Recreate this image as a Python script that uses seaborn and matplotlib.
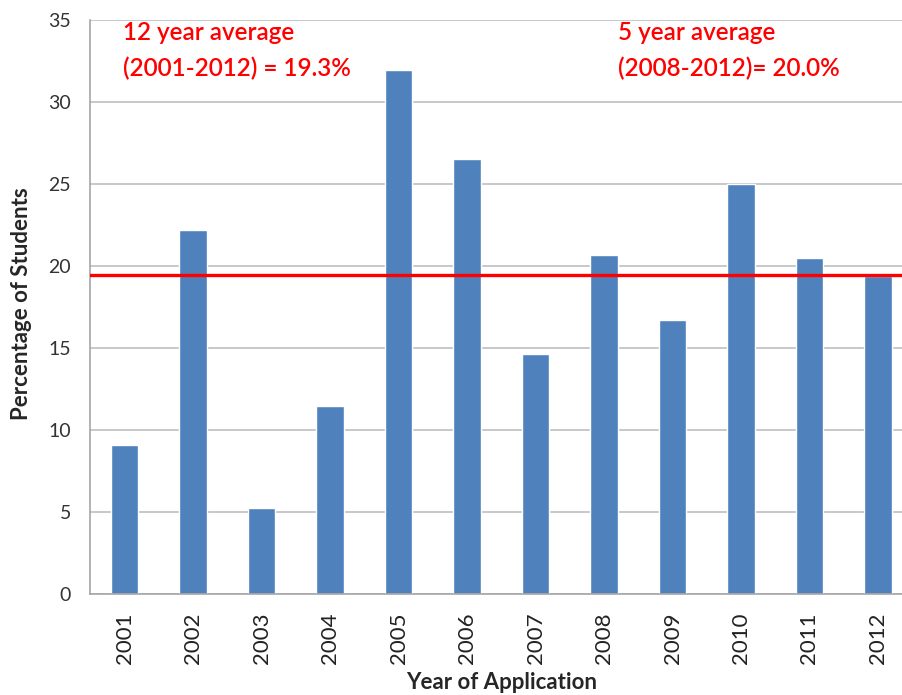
import pandas as pd
import matplotlib.pyplot as plt
import seaborn as sns

# datos
years = ['2001', '2002', '2003', '2004', '2005', '2006',
         '2007', '2008', '2009', '2010', '2011', '2012']
pct_students = [9.1, 22.2, 5.25, 11.45, 31.95, 26.5,
                14.65, 20.65, 16.7, 25.0, 20.5, 19.4]
avg_line = 19.45
note_12yr = ['12 year average', '(2001-2012) = 19.3%']
note_5yr = ['5 year average', '(2008-2012)= 20.0%']

df = pd.DataFrame({'year': years, 'pct': pct_students})

sns.set_style('white')
plt.rcParams['font.family'] = ['Lato', 'DejaVu Sans']

fig = plt.figure(figsize=(9.02, 6.95), dpi=100)
ax = fig.add_axes([0.1003, 0.1453, 0.911, 0.8266])

sns.barplot(data=df, x='year', y='pct', order=years, color='#4F81BD',
            saturation=1, width=0.4, ax=ax, zorder=2)

ax.axhline(avg_line, color='#FF0000', linewidth=2.4, zorder=3)

ax.set_ylim(0, 35)
ax.set_xlim(-0.5, len(years) - 0.5)
ax.set_yticks(range(0, 36, 5))
ax.yaxis.grid(True, color='#BFBFBF', linewidth=1.2, zorder=0)
ax.set_axisbelow(True)

for s in ['top', 'right']:
    ax.spines[s].set_visible(False)
for s in ['left', 'bottom']:
    ax.spines[s].set_color('#A6A6A6')
    ax.spines[s].set_linewidth(1.2)

ax.tick_params(axis='y', length=6, color='#A6A6A6', width=1.2,
               labelsize=14, labelcolor='#333333', pad=8)
ax.tick_params(axis='x', length=0, labelsize=16, labelcolor='#222222',
               labelrotation=90, pad=13)

ax.set_xlabel('Year of Application', fontsize=16, fontweight='bold')
ax.set_ylabel('Percentage of Students', fontsize=16, fontweight='bold')
ax.xaxis.set_label_coords(0.5, -0.136)
ax.yaxis.set_label_coords(-0.071, 0.505)

for txt, yy in zip(note_12yr, [0.953, 0.902]):
    fig.text(0.136, yy, txt, color='#FF0000', fontsize=17.5,
             fontweight='semibold', va='center')
for txt, yy in zip(note_5yr, [0.953, 0.902]):
    fig.text(0.685, yy, txt, color='#FF0000', fontsize=17.5,
             fontweight='semibold', va='center')

fig.savefig('out.png', dpi=100)
